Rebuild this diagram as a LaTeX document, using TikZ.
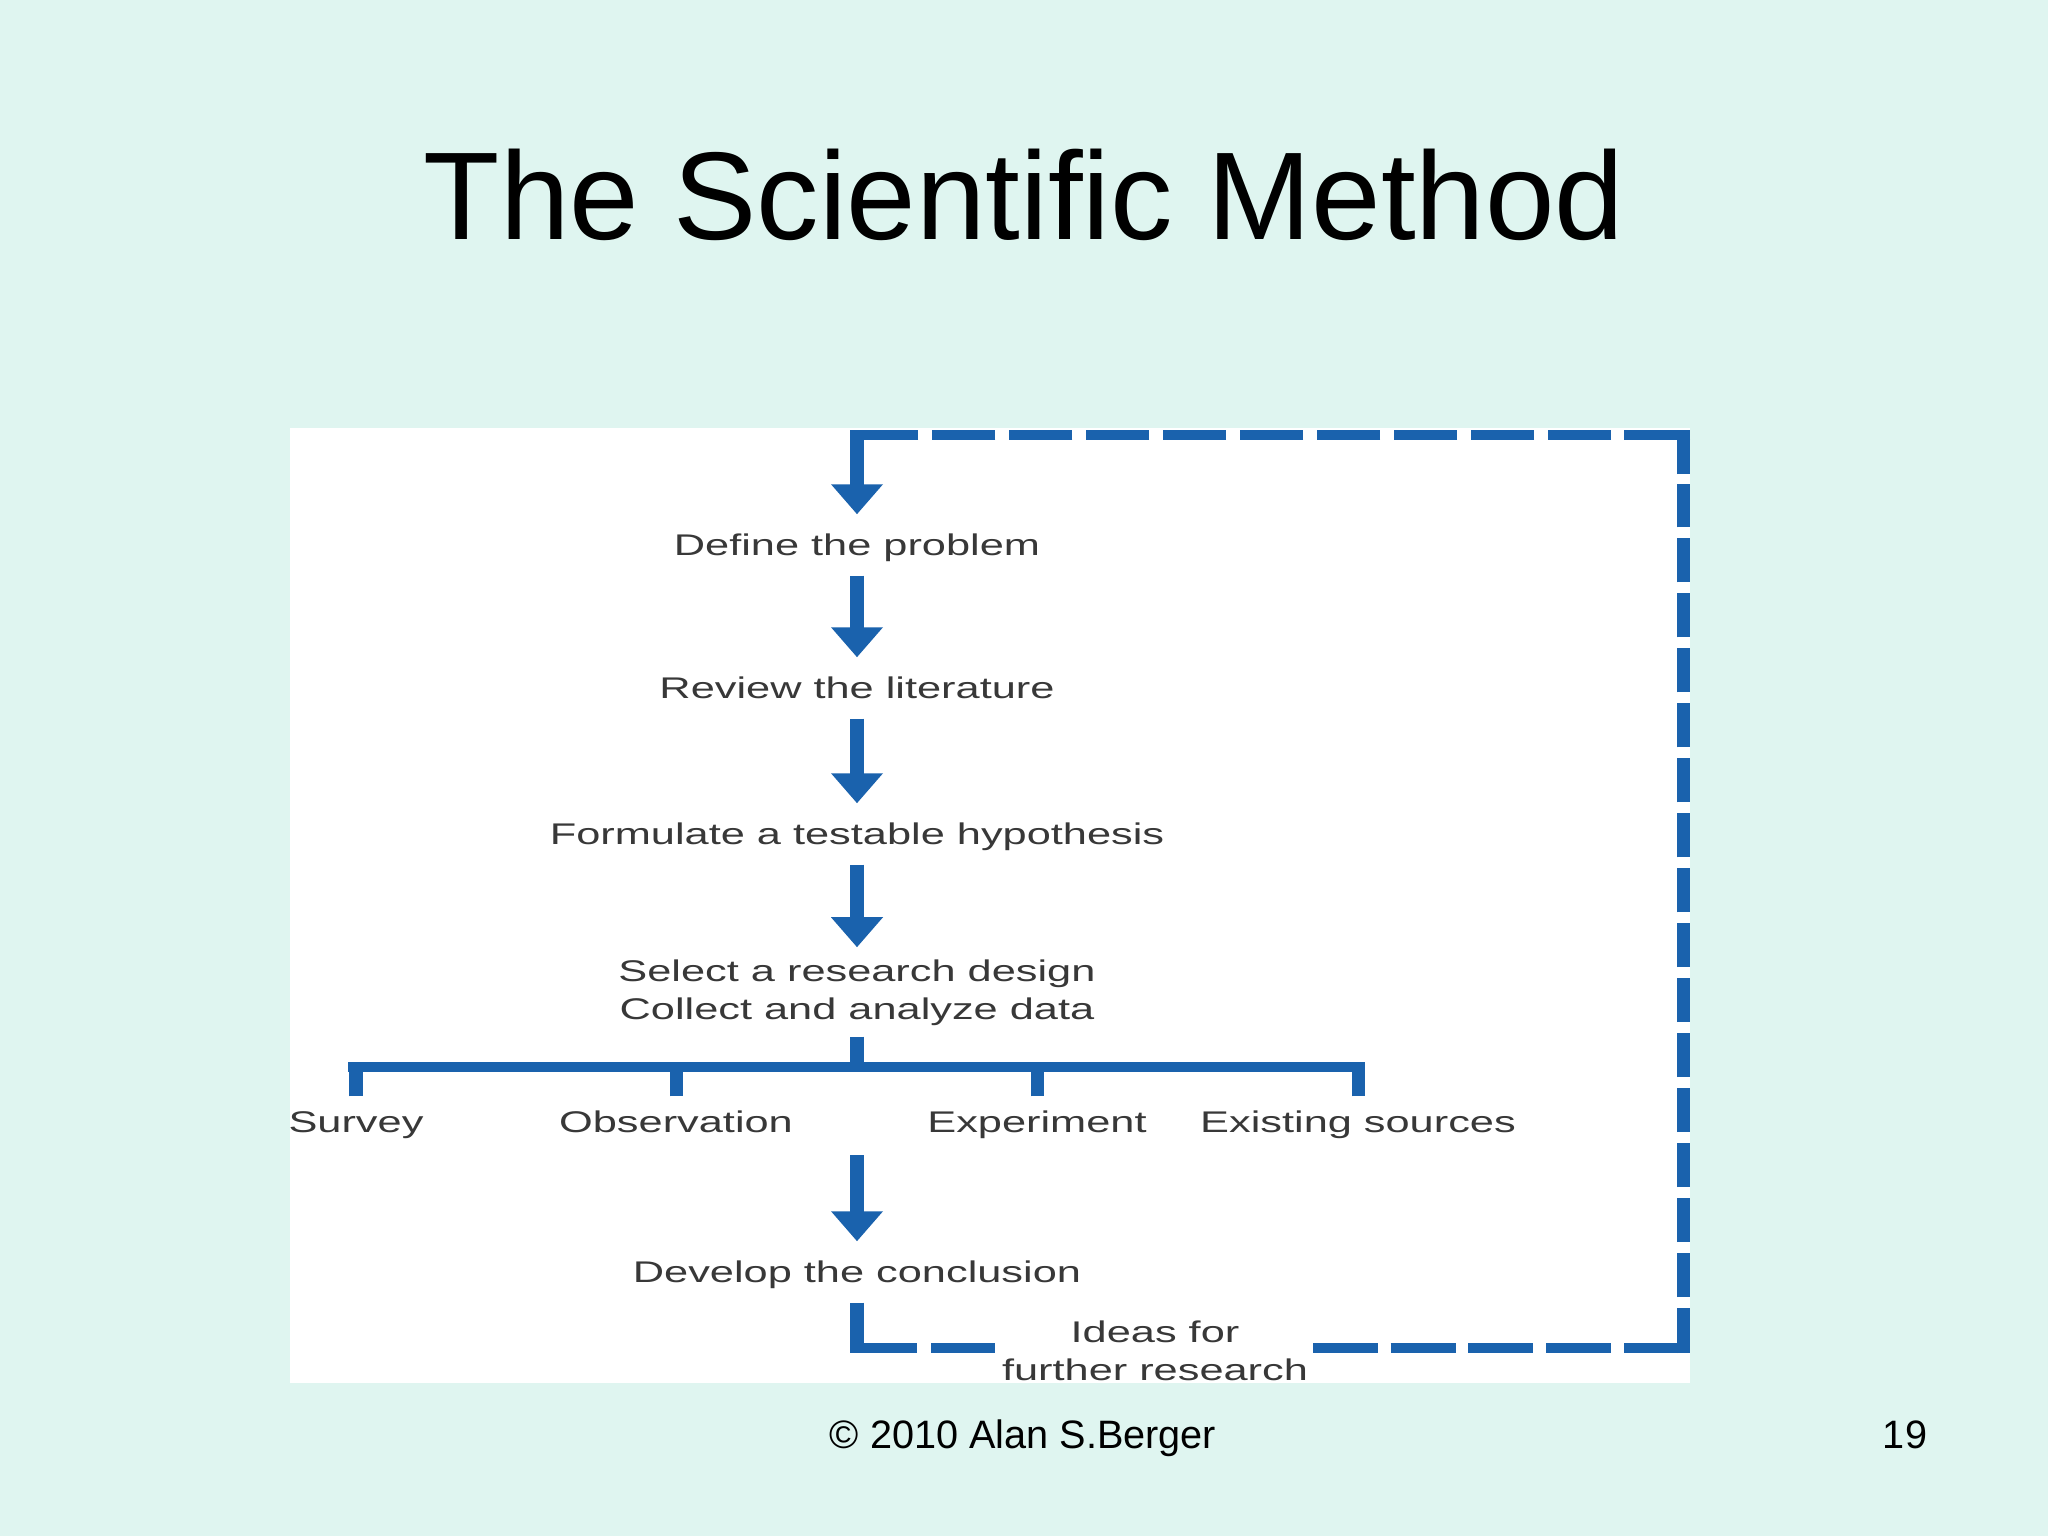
\documentclass[tikz,border=0pt]{standalone}
\usepackage{fontspec}
\setmainfont{Liberation Sans}
\newfontfamily\diagfont[FakeStretch=1.45]{Liberation Sans}
\usetikzlibrary{arrows.meta}
\definecolor{bg}{HTML}{DFF5F0}
\definecolor{flow}{HTML}{1A62AD}
\definecolor{txt}{HTML}{383838}
\begin{document}
\begin{tikzpicture}[x=0.01cm,y=-0.01cm,
  lbl/.style={font=\diagfont\fontsize{8.5pt}{10.53pt}\selectfont, text=txt, inner sep=0pt, anchor=base, text height=11.38pt, text depth=5.69pt},
  branchlbl/.style={lbl, text height=9.96pt},
  arr/.style={draw=flow, line width=3.98pt, -{Triangle[width=14.23pt,length=8.54pt]}},
  hline/.style={draw=flow, line width=2.85pt},
  vline/.style={draw=flow, line width=3.7pt},
  topdash/.style={dash pattern=on 17.93pt off 3.955pt},
  rightdash/.style={dash pattern=on 12.52pt off 3.11pt},
  botdash/.style={dash pattern=on 18.49pt off 3.605pt}]
% background and panel
\fill[bg] (0,0) rectangle (2048,1536);
\fill[white] (290,428) rectangle (1690,1383);
% title and footer
\node[font=\fontsize{35.5pt}{42pt}\selectfont, anchor=base, inner sep=0pt] (title) at (1024,239) {The Scientific Method};
\node[font=\fontsize{11.27pt}{13.5pt}\selectfont, anchor=base, inner sep=0pt] (footer) at (1023,1448) {© 2010 Alan S.Berger};
\node[font=\fontsize{11.27pt}{13.5pt}\selectfont, anchor=base, inner sep=0pt] (pagenum) at (1905,1448) {19};
% steps
\node[lbl] (define) at (857,555) {Define the problem};
\node[lbl] (review) at (857,698) {Review the literature};
\node[lbl] (formulate) at (857,844) {Formulate a testable hypothesis};
\node[lbl, align=center, text height=20.2pt, text depth=4.84pt] (select) at (857,1019) {Select a research design\\Collect and analyze data};
\node[branchlbl] (survey) at (356,1132) {Survey};
\node[branchlbl] (observation) at (676,1132) {Observation};
\node[branchlbl] (experiment) at (1037,1132) {Experiment};
\node[branchlbl] (existing) at (1358,1132) {Existing sources};
\node[lbl] (develop) at (857,1282) {Develop the conclusion};
\node[lbl, align=center] (ideas) at (1155,1380) {Ideas for\\further research};
% coordinates
\coordinate (loopTL) at (857,430);
\coordinate (junction) at (857,1067);
\coordinate (bartop) at (857,1062);
\coordinate (conc) at (857,1155);
\coordinate (loopBL) at (857,1353);
% main arrows
\draw[arr] (loopTL) -- (define.north);
\draw[arr] (define.south) -- (review.north);
\draw[arr] (review.south) -- (formulate.north);
\draw[arr] (formulate.south) -- (select.north);
% branches
\draw[vline, line width=3.98pt] (select.south) -- (junction);
\draw[hline] (348,1067) -- (1364,1067);
\draw[vline] (survey.north) -- (survey.north |- bartop);
\draw[vline] (observation.north) -- (observation.north |- bartop);
\draw[vline] (experiment.north) -- (experiment.north |- bartop);
\draw[vline] (existing.north) -- (existing.north |- bartop);
\draw[arr] (conc) -- (develop.north);
% feedback loop
\draw[vline, line width=3.98pt] (develop.south) -- (loopBL);
\draw[hline] (850,1348) -- (917,1348);
\draw[hline] (931,1348) -- (995,1348);
\draw[hline, botdash] (1313,1348) -- (1611,1348);
\draw[hline] (1624,1348) -- (1690,1348);
\draw[vline] (1683.5,1353) -- (1683.5,1308);
\draw[vline, rightdash] (1683.5,1297) -- (1683.5,484);
\draw[vline] (1683.5,474) -- (1683.5,430);
\draw[hline] (1690,435) -- (1624,435);
\draw[hline, topdash] (1611,435) -- (932,435);
\draw[hline] (918,435) -- (850,435);
\end{tikzpicture}
\end{document}
